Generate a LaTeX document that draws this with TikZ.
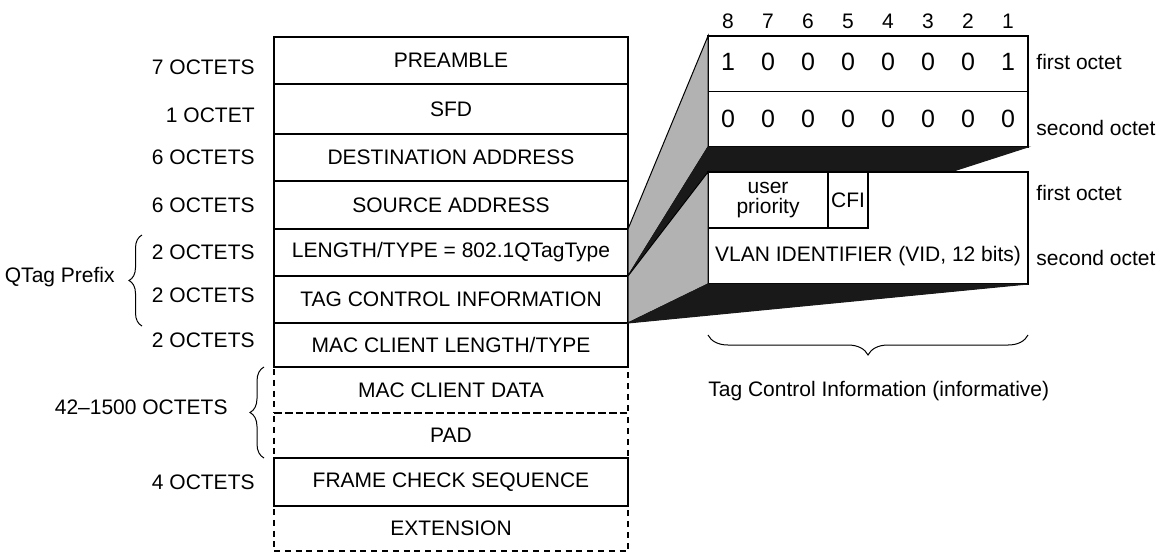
\documentclass[tikz,border=0pt]{standalone}
\usepackage{fontspec}
\setmainfont{Liberation Sans}
\usetikzlibrary{positioning,calc,decorations.pathreplacing}

\tikzset{
  field/.style={rectangle, draw, line width=0.65pt, minimum width=177pt, inner sep=0pt, outer sep=0pt, anchor=north west},
  dfield/.style={field, dash pattern=on 3pt off 2.4pt},
  octets/.style={inner sep=0pt},
  face/.style={fill=black!30, draw=black, line width=0.5pt},
  topface/.style={fill=black!90, draw=black!90, line width=0.5pt},
  slab/.style={rectangle, draw, fill=white, line width=0.65pt, minimum width=160pt, inner sep=0pt, outer sep=0pt, anchor=north west},
  sub/.style={rectangle, draw, line width=0.65pt, inner sep=0pt, outer sep=0pt, anchor=north west},
  brace/.style={decorate, decoration={brace, amplitude=#1}, line width=0.5pt},
  bitval/.style={octets, font=\fontsize{12.5}{14}\selectfont},
}

\begin{document}
\begin{tikzpicture}[x=0.5pt,y=-0.5pt, font=\fontsize{10.5}{12.6}\selectfont]
\useasboundingbox (0,0) rectangle (1160,553);

% frame
\path (274,37)node[field, minimum height=23.5pt](pre){PREAMBLE}
  (pre.south west)node[field, minimum height=25pt](sfd){SFD}
  (sfd.south west)node[field, minimum height=23.5pt](dst){DESTINATION ADDRESS}
  (dst.south west)node[field, minimum height=24pt](src){SOURCE ADDRESS}
  (src.south west)node[field, minimum height=23.5pt](lt){LENGTH/TYPE = 802.1QTagType}
  (lt.south west)node[field, minimum height=23.5pt](tci){TAG CONTROL INFORMATION}
  (tci.south west)node[field, minimum height=22pt](mcl){MAC CLIENT LENGTH/TYPE}
  (mcl.south west)node[dfield, minimum height=23pt](mcd){MAC CLIENT DATA}
  (mcd.south west)node[dfield, minimum height=22.5pt](pad){PAD}
  (pad.south west)node[field, minimum height=24pt](fcs){FRAME CHECK SEQUENCE}
  (fcs.south west)node[dfield, minimum height=22.5pt](ext){EXTENSION};

\node[octets, left=9.5pt of pre, yshift=-3.5pt](o1){7 OCTETS};
\node[octets, left=9.5pt of sfd, yshift=-3pt](o2){1 OCTET};
\node[octets, left=9.5pt of dst](o3){6 OCTETS};
\node[octets, left=9.5pt of src](o4){6 OCTETS};
\node[octets, left=9.5pt of lt](o5){2 OCTETS};
\node[octets, left=9.5pt of tci, yshift=2pt](o6){2 OCTETS};
\node[octets, left=9.5pt of mcl, yshift=2.5pt](o7){2 OCTETS};
\node[octets, anchor=east](o8) at (228,407){42--1500 OCTETS};
\node[octets, left=9.5pt of fcs](o9){4 OCTETS};

\draw[brace=6.5pt] (142,326) -- (142,235);
\node[octets, anchor=east](qtag) at (115,277){QTag Prefix};
\draw[brace=7pt] ($(pad.south west)+(-10,0)$) -- ($(mcd.north west)+(-10,0)$);

% tag control, exploded
\node[slab, minimum height=55.5pt](bits) at (708,36){};
\draw[line width=0.65pt] (bits.west) -- (bits.east);
\foreach \b/\v [count=\i from 0] in {8/1,7/0,6/0,5/0,4/0,3/0,2/0,1/1}{
  \node[octets](n\b) at (728+40*\i,21){\b};
  \node[bitval](v\b) at (728+40*\i,62){\v};
  \node[bitval](w\b) at (728+40*\i,119){0};
}
\filldraw[face] (lt.north east) -- (bits.north west) -- (bits.south west) -- (lt.south east) -- cycle;
\filldraw[topface] (lt.south east) -- (bits.south west) -- (bits.south east) -- cycle;

\node[slab, minimum height=56pt](tcf) at (708,172){};
\node[sub, minimum width=60pt, minimum height=28pt, align=center, font=\fontsize{10.5}{10}\selectfont](prio) at (tcf.north west){user\\priority};
\node[sub, minimum width=20pt, minimum height=28pt](cfi) at (prio.north east){CFI};
\node[octets](vid) at ($(tcf.south)+(0,-28)$){VLAN IDENTIFIER (VID, 12 bits)};
\filldraw[face] (tci.north east) -- (tcf.north west) -- (tcf.south west) -- (tci.south east) -- cycle;
\filldraw[topface] (tci.south east) -- (tcf.south west) -- (tcf.south east) -- cycle;

\node[octets, anchor=west](f1) at (1036,62){first octet};
\node[octets, anchor=west](s1) at (1036,128){second octet};
\node[octets, anchor=west](f2) at (1036,193){first octet};
\node[octets, anchor=west](s2) at (1036,258){second octet};

\draw[brace=10pt] ($(tcf.south east)+(0,51)$) -- ($(tcf.south west)+(0,51)$);
\node[octets, anchor=west](tcinfo) at (708,391){Tag Control Information (informative)};
\end{tikzpicture}
\end{document}
